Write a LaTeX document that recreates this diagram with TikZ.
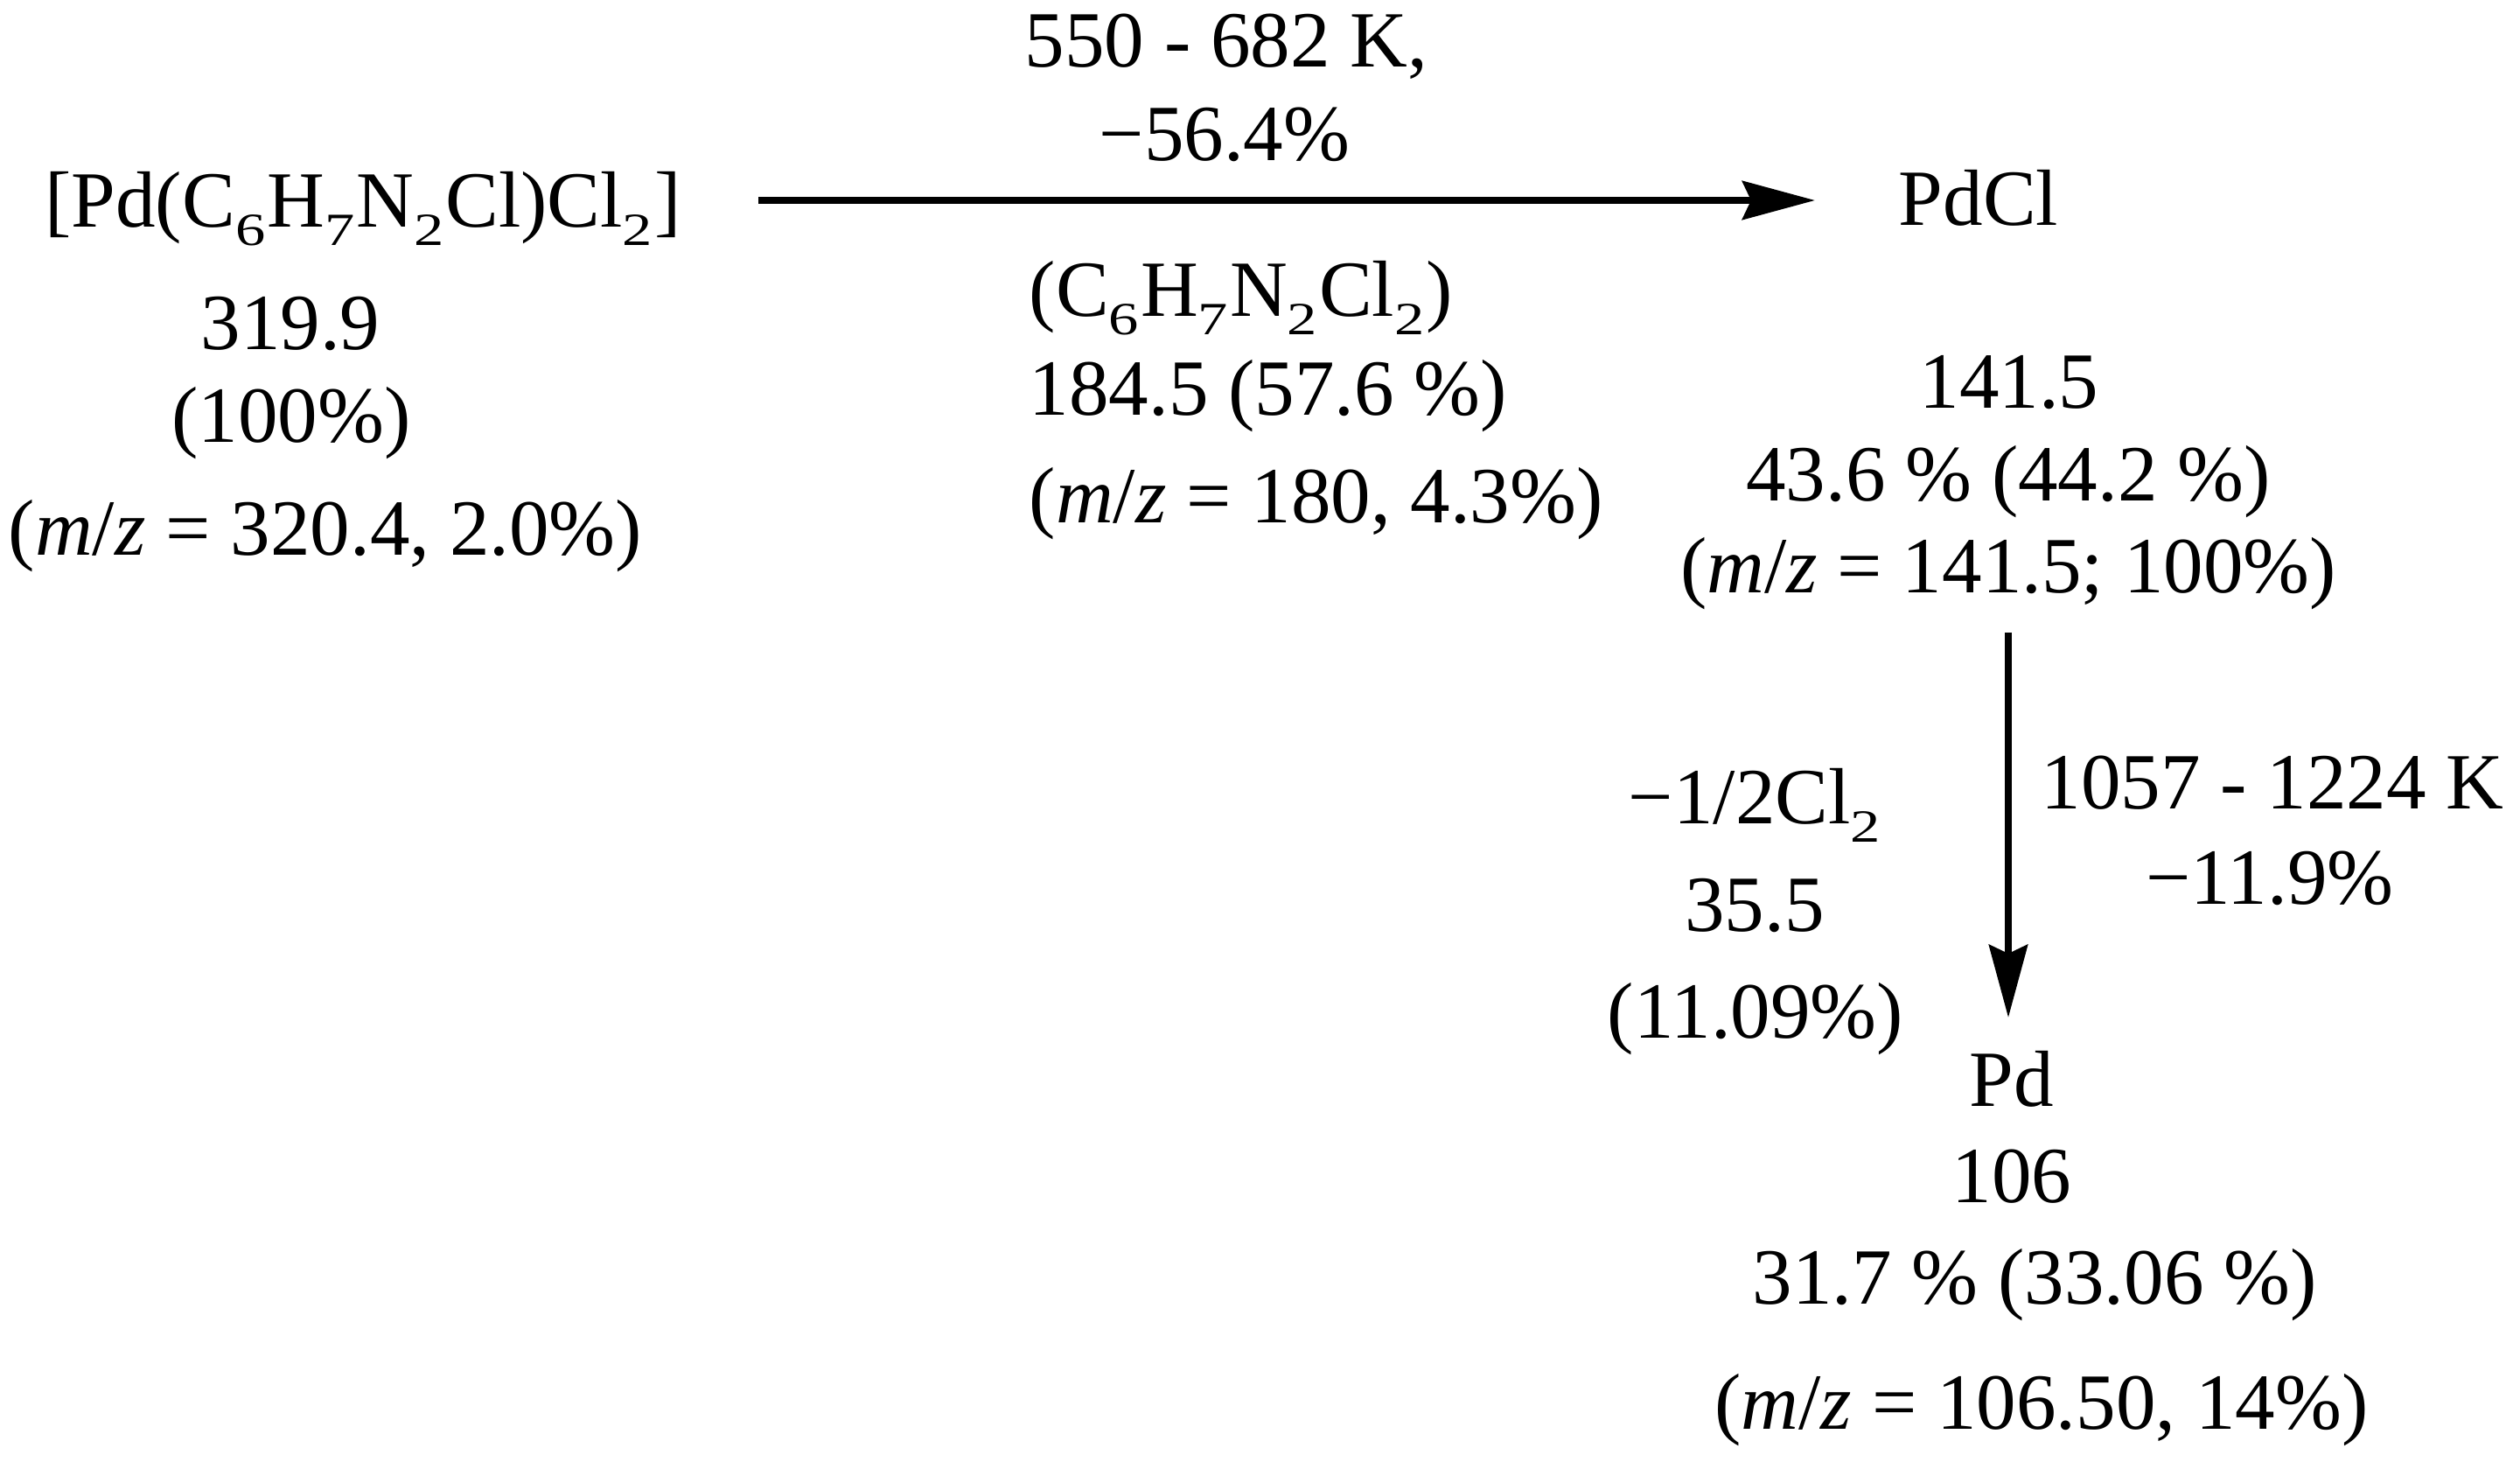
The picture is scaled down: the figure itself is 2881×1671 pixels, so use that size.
\documentclass[tikz,border=0pt]{standalone}
\usepackage{fontspec}
\setmainfont{Liberation Serif}
\usepackage{graphicx}
\usetikzlibrary{arrows.meta}
\newcommand\sbs[1]{\raisebox{-0.22em}{\scalebox{1.3}[1]{\fontsize{15pt}{16pt}\selectfont #1}}\kern0.02cm}
\newcommand\mz{\textit{m}/\textit{z}}
\begin{document}
\begin{tikzpicture}[x=0.01cm,y=-0.01cm,
  txt/.style={inner sep=0pt, anchor=base, font=\fontsize{25.9pt}{31pt}\selectfont},
  ltxt/.style={txt, anchor=base west},
  arr/.style={line width=0.08cm, -{Stealth[length=0.83cm,width=0.44cm,inset=0.1cm]}}]
\useasboundingbox (0,0) rectangle (2881,1671);
% left block
\node[txt] (reac) at (415,260) {[Pd(C\sbs{6}H\sbs{7}N\sbs{2}Cl)Cl\sbs{2}]};
\node[txt] (rmass) at (332,400) {319.9};
\node[txt] (rpct) at (333,506) {(100\%)};
\node[txt] (rmz) at (372,635) {(\mz{} = 320.4, 2.0\%)};
% top arrow labels
\node[txt] (c1a) at (1402,77) {550 - 682 K,};
\node[txt] (c1b) at (1400,184) {−56.4\%};
\node[ltxt] (l1a) at (1176,362) {(C\sbs{6}H\sbs{7}N\sbs{2}Cl\sbs{2})};
\node[ltxt] (l1b) at (1176,475) {184.5 (57.6 \%)};
\node[ltxt] (l1c) at (1176,598) {(\mz{} = 180, 4.3\%)};
% PdCl block
\node[txt] (pdcl) at (2262,258) {PdCl};
\node[txt] (pmass) at (2297,467) {141.5};
\node[txt] (ppct) at (2296,573) {43.6 \% (44.2 \%)};
\node[txt] (pmz) at (2296,678) {(\mz{} = 141.5; 100\%)};
% second step labels
\node[txt] (l2a) at (2007,942) {−1/2Cl\sbs{2}};
\node[txt] (l2b) at (2006,1065) {35.5};
\node[txt] (l2c) at (2007,1187) {(11.09\%)};
\node[txt] (c2a) at (2598,925) {1057 - 1224 K};
\node[txt] (c2b) at (2595,1034) {−11.9\%};
% Pd block
\node[txt] (pd) at (2300,1265) {Pd};
\node[txt] (dmass) at (2300,1375) {106};
\node[txt] (dpct) at (2326,1491) {31.7 \% (33.06 \%)};
\node[txt] (dmz) at (2334,1633) {(\mz{} = 106.50, 14\%)};
% arrows
\coordinate (h1) at (867,229);
\coordinate (h2) at (2075,229);
\coordinate (v1) at (2296,723);
\coordinate (v2) at (2296,1163);
\draw[arr] (h1) -- (h2);
\draw[arr] (v1) -- (v2);
\end{tikzpicture}
\end{document}
